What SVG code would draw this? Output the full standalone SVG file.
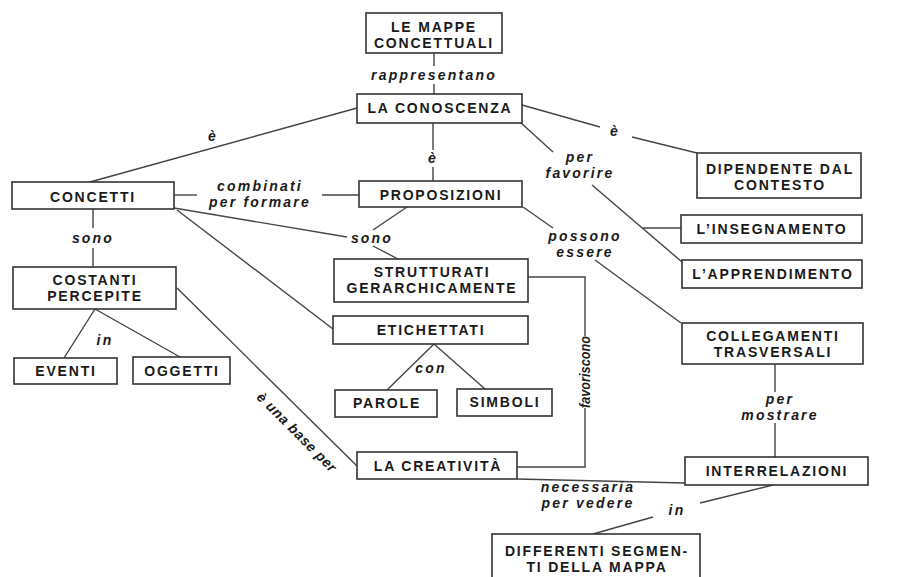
<svg xmlns="http://www.w3.org/2000/svg" width="899" height="577" viewBox="0 0 899 577">
<style>
.bg{fill:#fff}
.box rect{fill:#fff;stroke:#333;stroke-width:1.6}
.box text{font-family:"Liberation Sans",Arial,sans-serif;font-weight:bold;font-size:14px;letter-spacing:1.8px;fill:#1a1a1a;text-anchor:middle}
.lbl{font-family:"Liberation Sans",Arial,sans-serif;font-weight:bold;font-style:italic;font-size:14px;letter-spacing:2.2px;fill:#1a1a1a;text-anchor:middle}
#connectors line,#connectors polyline{stroke:#444;stroke-width:1.4;fill:none}
</style>
<rect class="bg" x="0" y="0" width="899" height="577"/>
<g id="connectors">
<line x1="434" y1="53" x2="434" y2="66"/>
<line x1="434" y1="84" x2="434" y2="94"/>
<line x1="357" y1="108" x2="90" y2="182"/>
<line x1="433" y1="123" x2="433" y2="150"/>
<line x1="433" y1="167" x2="433" y2="181"/>
<line x1="522" y1="105" x2="600" y2="127"/>
<line x1="632" y1="137" x2="697" y2="153"/>
<line x1="520" y1="122" x2="553" y2="152"/>
<line x1="592" y1="185" x2="682" y2="262"/>
<line x1="643" y1="228" x2="681" y2="228"/>
<line x1="174" y1="195" x2="197" y2="195"/>
<line x1="322" y1="195" x2="359" y2="195"/>
<line x1="174" y1="208" x2="347" y2="237"/>
<line x1="407" y1="207" x2="373" y2="230"/>
<line x1="373" y1="246" x2="398" y2="259"/>
<line x1="177" y1="210" x2="333" y2="329"/>
<line x1="93" y1="209" x2="93" y2="228"/>
<line x1="93" y1="248" x2="93" y2="267"/>
<line x1="95" y1="309" x2="64" y2="358"/>
<line x1="95" y1="309" x2="180" y2="357"/>
<line x1="177" y1="288" x2="357" y2="466"/>
<polyline points="528,277 585,277 585,336"/>
<polyline points="585,408 585,467 517,467"/>
<line x1="434" y1="344" x2="387" y2="390"/>
<line x1="434" y1="344" x2="485" y2="389"/>
<line x1="523" y1="207" x2="553" y2="228"/>
<line x1="595" y1="260" x2="681" y2="323"/>
<line x1="775" y1="364" x2="775" y2="392"/>
<line x1="775" y1="423" x2="775" y2="457"/>
<line x1="517" y1="479" x2="685" y2="483"/>
<line x1="773" y1="485" x2="700" y2="503"/>
<line x1="653" y1="517" x2="593" y2="534"/>
<text class="lbl" x="434" y="80">rappresentano</text>
<text class="lbl" x="213" y="141">è</text>
<text class="lbl" x="433" y="163">è</text>
<text class="lbl" x="615" y="136">è</text>
<text class="lbl"><tspan x="580" y="162">per</tspan><tspan x="580" y="178">favorire</tspan></text>
<text class="lbl"><tspan x="260" y="191">combinati</tspan><tspan x="260" y="207">per formare</tspan></text>
<text class="lbl" x="93" y="243">sono</text>
<text class="lbl" x="372" y="243">sono</text>
<text class="lbl"><tspan x="585" y="241">possono</tspan><tspan x="585" y="257">essere</tspan></text>
<text class="lbl" x="105" y="345">in</text>
<text class="lbl" x="431" y="373">con</text>
<text class="lbl" transform="translate(297,432) rotate(45)" x="0" y="5" style="font-size:14px;letter-spacing:0.6px">è una base per</text>
<text class="lbl" transform="translate(590,372) rotate(-90)" x="0" y="0" textLength="72" lengthAdjust="spacingAndGlyphs" style="font-size:14px;letter-spacing:0">favoriscono</text>
<text class="lbl"><tspan x="780" y="404">per</tspan><tspan x="780" y="420">mostrare</tspan></text>
<text class="lbl"><tspan x="588" y="492">necessaria</tspan><tspan x="588" y="508">per vedere</tspan></text>
<text class="lbl" x="677" y="515">in</text>
</g>
<g id="n-mappe" class="box"><rect x="366" y="13" width="136" height="40"/><text><tspan x="434" y="32">LE MAPPE</tspan><tspan x="434" y="48">CONCETTUALI</tspan></text></g>
<g id="n-conoscenza" class="box"><rect x="357" y="94" width="165" height="29"/><text x="440" y="113">LA CONOSCENZA</text></g>
<g id="n-concetti" class="box"><rect x="12" y="182" width="162" height="27"/><text x="93" y="202">CONCETTI</text></g>
<g id="n-proposizioni" class="box"><rect x="359" y="181" width="163" height="26"/><text x="441" y="200">PROPOSIZIONI</text></g>
<g id="n-costanti" class="box"><rect x="13" y="267" width="163" height="42"/><text><tspan x="95" y="285">COSTANTI</tspan><tspan x="95" y="301">PERCEPITE</tspan></text></g>
<g id="n-strutturati" class="box"><rect x="334" y="259" width="194" height="43"/><text><tspan x="432" y="277">STRUTTURATI</tspan><tspan x="432" y="293">GERARCHICAMENTE</tspan></text></g>
<g id="n-etichettati" class="box"><rect x="333" y="316" width="195" height="28"/><text x="431" y="335">ETICHETTATI</text></g>
<g id="n-eventi" class="box"><rect x="14" y="358" width="103" height="26"/><text x="66" y="376">EVENTI</text></g>
<g id="n-oggetti" class="box"><rect x="133" y="357" width="97" height="27"/><text x="182" y="376">OGGETTI</text></g>
<g id="n-parole" class="box"><rect x="335" y="390" width="102" height="27"/><text x="387" y="408">PAROLE</text></g>
<g id="n-simboli" class="box"><rect x="457" y="389" width="95" height="27"/><text x="505" y="407">SIMBOLI</text></g>
<g id="n-creativita" class="box"><rect x="357" y="452" width="160" height="27"/><text x="438" y="471">LA CREATIVITÀ</text></g>
<g id="n-dipendente" class="box"><rect x="697" y="153" width="164" height="45"/><text><tspan x="780" y="174">DIPENDENTE DAL</tspan><tspan x="780" y="190">CONTESTO</tspan></text></g>
<g id="n-insegnamento" class="box"><rect x="681" y="215" width="181" height="28"/><text x="772" y="234">L’INSEGNAMENTO</text></g>
<g id="n-apprendimento" class="box"><rect x="682" y="260" width="180" height="28"/><text x="773" y="279">L’APPRENDIMENTO</text></g>
<g id="n-collegamenti" class="box"><rect x="682" y="323" width="181" height="41"/><text><tspan x="773" y="341">COLLEGAMENTI</tspan><tspan x="773" y="357">TRASVERSALI</tspan></text></g>
<g id="n-interrelazioni" class="box"><rect x="685" y="457" width="183" height="28"/><text x="777" y="476">INTERRELAZIONI</text></g>
<g id="n-differenti" class="box"><rect x="492" y="534" width="208" height="46"/><text><tspan x="597" y="556">DIFFERENTI SEGMEN-</tspan><tspan x="597" y="572">TI DELLA MAPPA</tspan></text></g>
</svg>
